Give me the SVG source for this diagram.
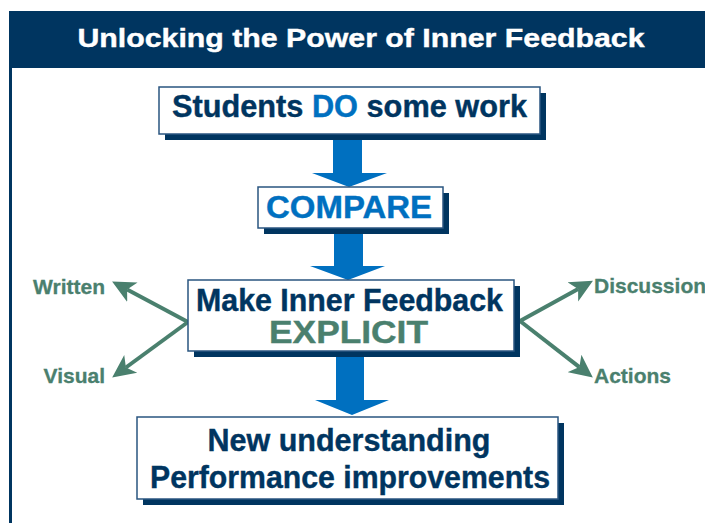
<svg xmlns="http://www.w3.org/2000/svg" width="705" height="523" viewBox="0 0 705 523">
  <style>
    .box { fill: #ffffff; stroke: #2a5580; stroke-width: 1.5; }
    .shadow { fill: #003560; }
    .txt { font-family: "Liberation Sans", Arial, sans-serif; font-weight: bold; font-size: 30.5px; fill: #003560; stroke: #003560; stroke-width: 0.4; text-anchor: middle; }
    .blue { fill: #0070c0; stroke: #0070c0; }
    .green { fill: #4a806e; stroke: #4a806e; }
    .side { font-family: "Liberation Sans", Arial, sans-serif; font-weight: bold; font-size: 21px; fill: #4a806e; stroke: #4a806e; stroke-width: 0.3; }
    .flow { fill: #0070c0; }
    .branch { stroke: #4a806e; stroke-width: 4; fill: none; marker-end: url(#barb); }
  </style>
  <defs>
    <marker id="barb" markerUnits="userSpaceOnUse" markerWidth="24" markerHeight="24" viewBox="0 0 24 24" refX="6" refY="12" orient="auto">
      <path d="M0,1 L23,12 L0,23 L6,12 Z" fill="#4a806e"/>
    </marker>
  </defs>

  <rect width="705" height="523" fill="#ffffff"/>

  <!-- frame and title bar -->
  <g id="header">
    <line x1="10.5" y1="11" x2="10.5" y2="523" stroke="#003560" stroke-width="3"/>
    <rect x="9" y="11" width="696" height="57" fill="#003560"/>
    <text x="361" y="47" font-family="'Liberation Sans', Arial, sans-serif" font-weight="bold" font-size="26" fill="#ffffff" stroke="#ffffff" stroke-width="0.4" text-anchor="middle" textLength="567" lengthAdjust="spacingAndGlyphs">Unlocking the Power of Inner Feedback</text>
  </g>

  <!-- connectors -->
  <g id="connectors">
    <polygon class="flow" points="333,140 362,140 362,173 387,173 349,187 312,173 333,173"/>
    <polygon class="flow" points="334,233 363,233 363,266 385,266 348,280 310,266 334,266"/>
    <polygon class="flow" points="336,356 364,356 364,400 389,400 352,415 315,400 336,400"/>
    <line class="branch" x1="188" y1="322" x2="127.1" y2="289.5"/>
    <line class="branch" x1="188" y1="322" x2="125.9" y2="367.5"/>
    <line class="branch" x1="520" y1="321" x2="578.1" y2="288.9"/>
    <line class="branch" x1="520" y1="321" x2="579.4" y2="367.1"/>
  </g>

  <g id="node-do">
    <rect class="shadow" x="165" y="93" width="381" height="47"/>
    <rect class="box" x="159" y="87" width="381" height="47"/>
    <text class="txt" x="349.5" y="117" textLength="355" lengthAdjust="spacingAndGlyphs">Students <tspan class="blue">DO</tspan> some work</text>
  </g>

  <g id="node-compare">
    <rect class="shadow" x="264" y="193" width="185" height="41"/>
    <rect class="box" x="258" y="187" width="185" height="41"/>
    <text class="txt blue" x="349" y="218" textLength="166" lengthAdjust="spacingAndGlyphs">COMPARE</text>
  </g>

  <g id="node-explicit">
    <rect class="shadow" x="194" y="286" width="326" height="71"/>
    <rect class="box" x="188" y="280" width="326" height="71"/>
    <text class="txt" x="349.5" y="311" textLength="307" lengthAdjust="spacingAndGlyphs">Make Inner Feedback</text>
    <text class="txt green" x="348.5" y="343" textLength="159" lengthAdjust="spacingAndGlyphs">EXPLICIT</text>
  </g>

  <g id="node-result">
    <rect class="shadow" x="143" y="423" width="421" height="82"/>
    <rect class="box" x="137" y="417" width="421" height="82"/>
    <text class="txt" x="349" y="451" textLength="283" lengthAdjust="spacingAndGlyphs">New understanding</text>
    <text class="txt" x="350" y="488" textLength="400" lengthAdjust="spacingAndGlyphs">Performance improvements</text>
  </g>

  <g id="label-written"><text class="side" x="105" y="294" text-anchor="end">Written</text></g>
  <g id="label-visual"><text class="side" x="105" y="383" text-anchor="end">Visual</text></g>
  <g id="label-discussion"><text class="side" x="594" y="293">Discussion</text></g>
  <g id="label-actions"><text class="side" x="594" y="383">Actions</text></g>
</svg>
